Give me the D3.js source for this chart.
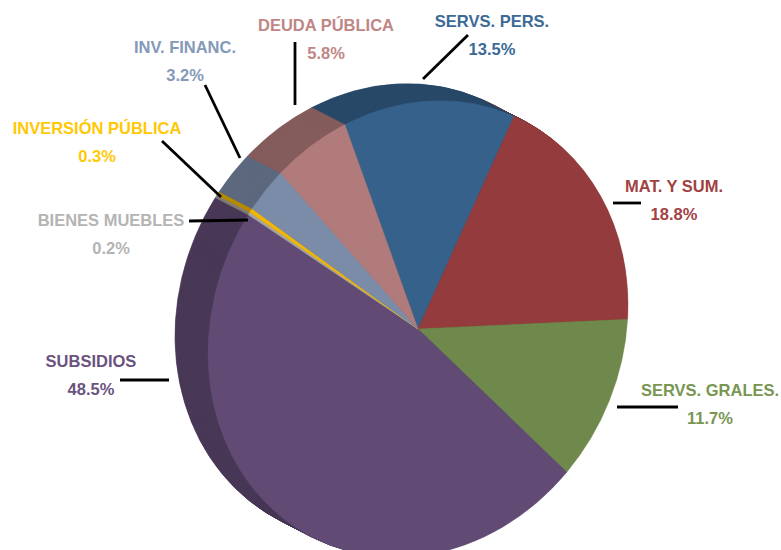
<!DOCTYPE html>
<html>
<head>
<meta charset="utf-8">
<script src="https://cdn.jsdelivr.net/npm/d3@7"></script>
<style>
  body { margin: 0; background: #fff; }
  text { font-family: "Liberation Sans", Arial, sans-serif; font-weight: bold; }
</style>
</head>
<body>
<div id="chart"></div>
<script>
// slices, clockwise from the top
const categories = ["SERVS. PERS.", "MAT. Y SUM.", "SERVS. GRALES.", "SUBSIDIOS",
  "BIENES MUEBLES", "INVERSIÓN PÚBLICA", "INV. FINANC.", "DEUDA PÚBLICA"];
const shares = [13.5, 18.8, 11.7, 48.5, 0.2, 0.3, 3.2, 5.8];
const sliceColors = ["#36618a", "#943b3d", "#6e894b", "#614b74",
  "#a5a5a5", "#f2b705", "#7a8ca8", "#b07b7a"];

// where each label sits (centre, baseline of the name) and its leader line
const labelLayout = [
  { x: 492, y: 27,  line: [[468, 35], [423, 79]] },
  { x: 674, y: 192, line: [[641, 203], [613, 203]] },
  { x: 710, y: 396, line: [[678, 407], [617, 407]] },
  { x: 91,  y: 367, line: [[120, 380], [169, 380]] },
  { x: 111, y: 226, line: [[189, 221], [248, 220]] },
  { x: 97,  y: 134, line: [[162, 141], [221, 197]] },
  { x: 185, y: 53,  line: [[205, 85], [240, 158]] },
  { x: 326, y: 31,  line: [[295, 42], [295, 105]] }
];

const w = 781, h = 550;
const R = 100;
// tilted pie: unit pie squeezed / sheared into the picture
const pieMatrix = [2.10, -0.24, 0, 2.27, 418, 329];
const depth = { dx: -33, dy: -17, steps: 40 };

const data = categories.map((c, i) => ({ name: c, value: shares[i], color: sliceColors[i], lab: labelLayout[i] }));

const start = -20.4 * Math.PI / 180;
const pie = d3.pie().sort(null).value(d => d.value)
  .startAngle(start).endAngle(start + 2 * Math.PI);
const arc = d3.arc().innerRadius(0).outerRadius(R);
const arcs = pie(data);

const svg = d3.select("#chart").append("svg")
  .attr("width", w).attr("height", h);

//side of the pie: stacked dark copies, farthest first
const side = svg.append("g");
d3.range(depth.steps, 0, -1).forEach(k => {
  const t = k / depth.steps;
  const m = pieMatrix.slice();
  m[4] += depth.dx * t;
  m[5] += depth.dy * t;
  side.append("g")
    .attr("transform", `matrix(${m.join(",")})`)
    .selectAll("path")
    .data(arcs)
    .join("path")
    .attr("d", arc)
    .attr("fill", d => d3.color(d.data.color).darker(0.8))
    .attr("stroke", d => d3.color(d.data.color).darker(0.8))
    .attr("stroke-width", 0.3);
});

//top face
svg.append("g")
  .attr("transform", `matrix(${pieMatrix.join(",")})`)
  .selectAll("path")
  .data(arcs)
  .join("path")
  .attr("d", arc)
  .attr("fill", d => d.data.color)
  .attr("stroke", d => d.data.color)
  .attr("stroke-width", 0.2);

//leader lines
svg.append("g").selectAll("line")
  .data(data)
  .join("line")
  .attr("x1", d => d.lab.line[0][0]).attr("y1", d => d.lab.line[0][1])
  .attr("x2", d => d.lab.line[1][0]).attr("y2", d => d.lab.line[1][1])
  .attr("stroke", "#000").attr("stroke-width", 2.8);

//labels
const fmt = d3.format(".1f");
const labels = svg.append("g").selectAll("g")
  .data(data)
  .join("g")
  .attr("transform", d => `translate(${d.lab.x},${d.lab.y})`)
  .attr("fill", d => d3.color(d.color).brighter(0.25));

labels.append("text")
  .attr("text-anchor", "middle")
  .attr("font-size", 16.5)
  .text(d => d.name);

labels.append("text")
  .attr("text-anchor", "middle")
  .attr("y", 28)
  .attr("font-size", 16.5)
  .text(d => fmt(d.value) + "%");
</script>
</body>
</html>
